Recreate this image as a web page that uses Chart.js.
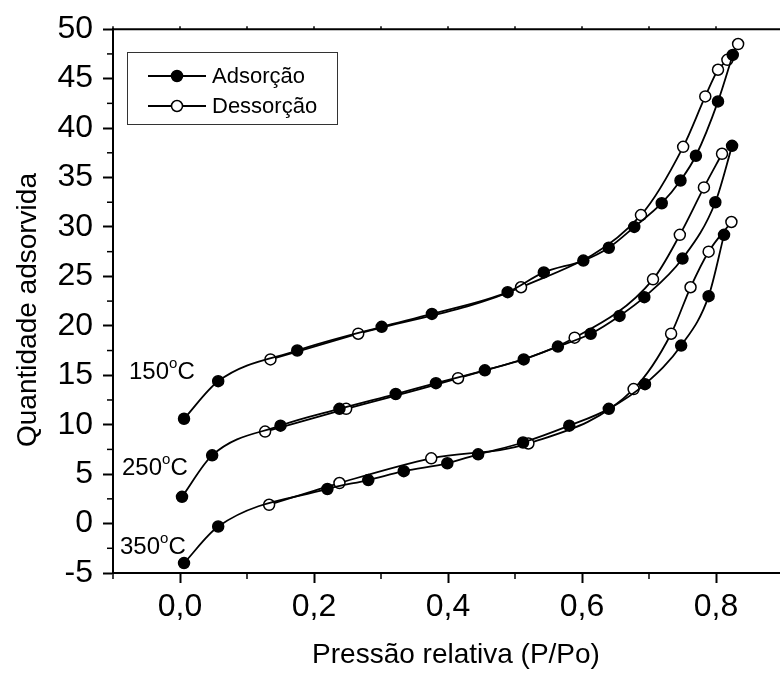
<!DOCTYPE html>
<html>
<head>
<meta charset="utf-8">
<script src="https://cdn.jsdelivr.net/npm/chart.js@4.4.1/dist/chart.umd.min.js"></script>
<style>
  html, body { margin: 0; padding: 0; overflow: hidden; background: #fff; }
  #wrap { width: 790px; height: 677px; }
</style>
</head>
<body>
<div id="wrap"><canvas id="isoChart" width="790" height="677"></canvas></div>
<script>
// Isotermas de adsorção / dessorção (P/Po vs quantidade adsorvida)
var seriesNames = ['Adsorção', 'Dessorção'];
var tempLabels = ['150', '250', '350'];

var xTicks = [0, 0.2, 0.4, 0.6, 0.8];
var xMinor = [-0.1, 0.1, 0.3, 0.5, 0.7];
var yTicks = [-5, 0, 5, 10, 15, 20, 25, 30, 35, 40, 45, 50];
var yMinor = [-2.5, 2.5, 7.5, 12.5, 17.5, 22.5, 27.5, 32.5, 37.5, 42.5, 47.5];

// 150 °C
var ads150P = [0.006, 0.057, 0.175, 0.301, 0.376, 0.489, 0.543, 0.602, 0.640, 0.678, 0.719, 0.747, 0.770, 0.803, 0.825];
var ads150Q = [10.6, 14.4, 17.5, 19.9, 21.2, 23.4, 25.4, 26.6, 27.9, 30.0, 32.4, 34.7, 37.2, 42.7, 47.4];
var des150P = [0.135, 0.266, 0.509, 0.688, 0.751, 0.784, 0.803, 0.817, 0.833];
var des150Q = [16.6, 19.2, 23.9, 31.2, 38.1, 43.2, 45.9, 46.9, 48.5];

// 250 °C
var ads250P = [0.003, 0.048, 0.150, 0.238, 0.322, 0.382, 0.455, 0.513, 0.564, 0.613, 0.656, 0.693, 0.750, 0.799, 0.824];
var ads250Q = [2.7, 6.9, 9.9, 11.6, 13.1, 14.2, 15.5, 16.6, 17.9, 19.2, 21.0, 22.9, 26.8, 32.5, 38.2];
var des250P = [0.127, 0.248, 0.415, 0.589, 0.706, 0.746, 0.782, 0.809];
var des250Q = [9.3, 11.6, 14.7, 18.8, 24.7, 29.2, 34.0, 37.4];

// 350 °C
var ads350P = [0.006, 0.057, 0.220, 0.281, 0.334, 0.399, 0.445, 0.512, 0.581, 0.640, 0.694, 0.748, 0.789, 0.812];
var ads350Q = [-4.0, -0.3, 3.5, 4.4, 5.3, 6.1, 7.0, 8.2, 9.9, 11.6, 14.1, 18.0, 23.0, 29.2];
var des350P = [0.133, 0.238, 0.375, 0.520, 0.677, 0.733, 0.762, 0.789, 0.823];
var des350Q = [1.9, 4.1, 6.6, 8.1, 13.6, 19.2, 23.9, 27.5, 30.5];

var FONT = "'Liberation Sans', Arial, sans-serif";
Chart.defaults.font.family = FONT;
Chart.defaults.color = '#000';

function toPoints(p, q) {
    return p.map(function (x, i) { return { x: x, y: q[i] }; });
}

function series(label, p, q, filled) {
    return {
        label: label,
        data: toPoints(p, q),
        showLine: true,
        borderColor: '#000',
        borderWidth: 1.8,
        pointRadius: 5.5,
        pointBackgroundColor: filled ? '#000' : '#fff',
        pointBorderColor: '#000',
        pointBorderWidth: 1.5,
        cubicInterpolationMode: 'monotone',
        fill: false
    };
}

// legenda, títulos, ticks secundários e rótulos de temperatura
var decor = {
    id: 'decor',
    afterDraw: function (chart) {
        var ctx = chart.ctx, a = chart.chartArea;
        var sx = chart.scales.x, sy = chart.scales.y;
        ctx.save();
        ctx.strokeStyle = '#000';
        ctx.fillStyle = '#000';

        // moldura superior
        ctx.lineWidth = 2;
        ctx.beginPath();
        ctx.moveTo(a.left - 1, a.top);
        ctx.lineTo(a.right + 10, a.top);
        ctx.stroke();

        // ticks menores
        ctx.lineWidth = 1.5;
        xMinor.forEach(function (v) {
            var px = sx.getPixelForValue(v);
            ctx.beginPath(); ctx.moveTo(px, a.bottom); ctx.lineTo(px, a.bottom + 6); ctx.stroke();
        });
        xMinor.concat(xTicks).forEach(function (v) {
            var px = sx.getPixelForValue(v);
            ctx.beginPath(); ctx.moveTo(px, a.top); ctx.lineTo(px, a.top - 3); ctx.stroke();
        });
        yMinor.forEach(function (v) {
            var py = sy.getPixelForValue(v);
            ctx.beginPath(); ctx.moveTo(a.left, py); ctx.lineTo(a.left - 6, py); ctx.stroke();
        });

        // títulos dos eixos
        ctx.font = '28px ' + FONT;
        ctx.textAlign = 'center';
        ctx.textBaseline = 'alphabetic';
        ctx.fillText('Pressão relativa (P/Po)', 456, 663);
        ctx.save();
        ctx.translate(36, 310);
        ctx.rotate(-Math.PI / 2);
        ctx.fillText('Quantidade adsorvida', 0, 0);
        ctx.restore();

        // rótulos de temperatura
        var tempPos = [[129, 379], [122, 475], [120, 554]];
        ctx.textAlign = 'left';
        tempLabels.forEach(function (t, i) {
            var x = tempPos[i][0], y = tempPos[i][1];
            ctx.font = '24px ' + FONT;
            ctx.fillText(t, x, y);
            x += ctx.measureText(t).width;
            ctx.font = '15px ' + FONT;
            ctx.fillText('o', x, y - 11);
            x += ctx.measureText('o').width;
            ctx.font = '24px ' + FONT;
            ctx.fillText('C', x, y);
        });

        // legenda
        ctx.lineWidth = 1;
        ctx.strokeStyle = '#333';
        ctx.strokeRect(127.5, 52.5, 210, 72);
        ctx.font = '22px ' + FONT;
        ctx.textBaseline = 'middle';
        seriesNames.forEach(function (name, i) {
            var ly = 76 + i * 30;
            ctx.strokeStyle = '#000';
            ctx.lineWidth = 2;
            ctx.beginPath(); ctx.moveTo(148, ly); ctx.lineTo(206, ly); ctx.stroke();
            ctx.beginPath();
            ctx.arc(177, ly, 5.5, 0, Math.PI * 2);
            ctx.fillStyle = i === 0 ? '#000' : '#fff';
            ctx.fill();
            ctx.lineWidth = 1.5;
            ctx.stroke();
            ctx.fillStyle = '#000';
            ctx.fillText(name, 212, ly + 1);
        });
        ctx.restore();
    }
};

document.addEventListener('DOMContentLoaded', function () {
    var ctx = document.getElementById('isoChart').getContext('2d');
    var isoChart = new Chart(ctx, {
        type: 'scatter',
        data: {
            datasets: [
                series(seriesNames[0] + ' 150', ads150P, ads150Q, true),
                series(seriesNames[0] + ' 250', ads250P, ads250Q, true),
                series(seriesNames[0] + ' 350', ads350P, ads350Q, true),
                series(seriesNames[1] + ' 150', des150P, des150Q, false),
                series(seriesNames[1] + ' 250', des250P, des250Q, false),
                series(seriesNames[1] + ' 350', des350P, des350Q, false)
            ]
        },
        options: {
            responsive: false,
            animation: false,
            devicePixelRatio: 1,
            layout: { padding: { top: 23, right: 6, bottom: 0, left: 0 } },
            plugins: {
                legend: { display: false },
                tooltip: { enabled: false }
            },
            scales: {
                x: {
                    type: 'linear',
                    min: -0.1,
                    max: 0.9,
                    afterBuildTicks: function (s) { s.ticks = xTicks.map(function (v) { return { value: v }; }); },
                    afterFit: function (s) { s.height = 104; },
                    ticks: {
                        font: { size: 32 },
                        color: '#000',
                        padding: 5,
                        maxRotation: 0,
                        autoSkip: false,
                        callback: function (v) { return Number(v).toFixed(1).replace('.', ','); }
                    },
                    grid: { drawOnChartArea: false, drawTicks: true, tickLength: 10, tickColor: '#000', tickWidth: 2 },
                    border: { color: '#000', width: 2 }
                },
                y: {
                    min: -5,
                    max: 50,
                    afterBuildTicks: function (s) { s.ticks = yTicks.map(function (v) { return { value: v }; }); },
                    afterFit: function (s) { s.width = 113; },
                    ticks: {
                        font: { size: 32 },
                        color: '#000',
                        padding: 10,
                        autoSkip: false,
                        callback: function (v) { return String(v); }
                    },
                    grid: { drawOnChartArea: false, drawTicks: true, tickLength: 10, tickColor: '#000', tickWidth: 2 },
                    border: { color: '#000', width: 2 }
                }
            }
        },
        plugins: [decor]
    });
});
</script>
</body>
</html>
